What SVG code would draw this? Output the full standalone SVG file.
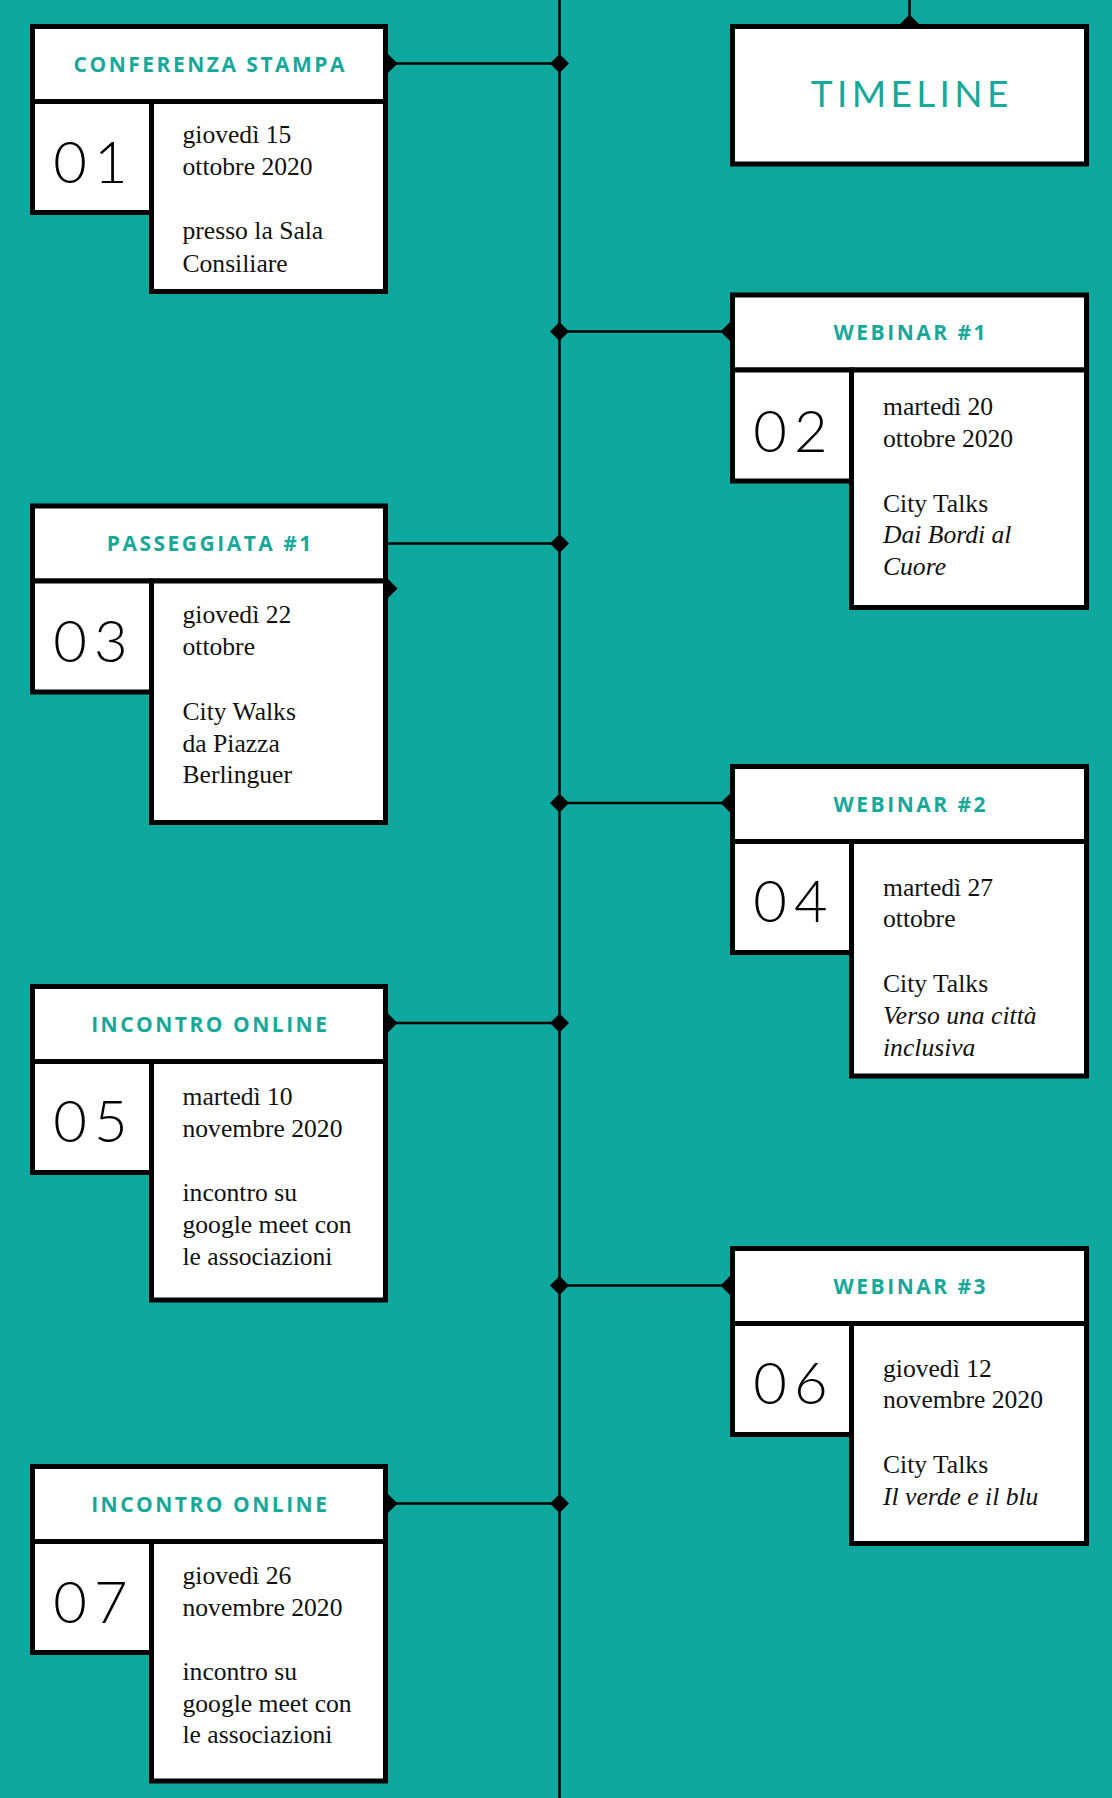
<svg xmlns="http://www.w3.org/2000/svg" width="1112" height="1798" viewBox="0 0 1112 1798">
<defs>
<style>
.box{fill:#fff;stroke:#000;stroke-width:5}
.head{font-family:"Open Sans","DejaVu Sans",sans-serif;font-weight:700;font-size:21px;letter-spacing:2.5px;fill:#17a89a;text-anchor:middle}
.num{font-family:Lato,"DejaVu Sans",sans-serif;font-weight:300;font-size:58px;letter-spacing:7px;fill:#000;text-anchor:middle}
.body{font-family:"Liberation Serif","Times New Roman",serif;font-size:25.6px;fill:#111}
.it{font-style:italic}
.title{font-family:Lato,"DejaVu Sans",sans-serif;font-weight:400;font-size:37px;letter-spacing:4.4px;fill:#17a89a;text-anchor:middle}
.line{stroke:#000;stroke-width:2.5;fill:none}
.conn{stroke:#000;stroke-width:2.5;fill:none;marker-start:url(#dia);marker-end:url(#dia)}
.connE{stroke:#000;stroke-width:2.5;fill:none;marker-end:url(#dia)}
</style>
<marker id="dia" markerUnits="userSpaceOnUse" markerWidth="20" markerHeight="20" refX="10" refY="10" orient="auto" overflow="visible">
<path d="M10,0.5 L19.5,10 L10,19.5 L0.5,10Z" fill="#000"/>
</marker>
<path id="dm" d="M0,-9.5 L9.5,0 L0,9.5 L-9.5,0Z" fill="#000"/>
</defs>
<rect width="1112" height="1798" fill="#0fa89e"/>
<g id="connectors">
<line class="line" x1="559.5" y1="0" x2="559.5" y2="1798"/>
<line class="connE" x1="909.5" y1="0" x2="909.5" y2="24"/>
<line class="conn" x1="388" y1="63.5" x2="559.5" y2="63.5"/>
<line class="conn" x1="730" y1="331.5" x2="559.5" y2="331.5"/>
<line class="connE" x1="388" y1="543.5" x2="559.5" y2="543.5"/>
<use href="#dm" x="388" y="588.5"/>
<line class="conn" x1="730" y1="803" x2="559.5" y2="803"/>
<line class="conn" x1="388" y1="1023" x2="559.5" y2="1023"/>
<line class="conn" x1="730" y1="1285.5" x2="559.5" y2="1285.5"/>
<line class="conn" x1="388" y1="1503.5" x2="559.5" y2="1503.5"/>
</g>
<g id="timeline">
<rect class="box" x="732.5" y="26.5" width="354" height="137.5"/>
<text class="title" x="911.7" y="106.7">TIMELINE</text>
</g>
<g id="box01">
<rect class="box" x="32.5" y="26.5" width="353" height="75"/>
<rect class="box" x="32.5" y="101.5" width="119" height="111"/>
<rect class="box" x="151.5" y="101.5" width="234" height="190"/>
<text class="head" x="210.3" y="71.7">CONFERENZA STAMPA</text>
<text class="num" x="94" y="182.7">01</text>
<text class="body"><tspan x="182.5" y="143.3">giovedì 15</tspan><tspan x="182.5" y="175">ottobre 2020</tspan><tspan x="182.5" y="239">presso la Sala</tspan><tspan x="182.5" y="271.7">Consiliare</tspan></text>
</g>
<g id="box02">
<rect class="box" x="732.5" y="295" width="354" height="75"/>
<rect class="box" x="732.5" y="370" width="119" height="111"/>
<rect class="box" x="851.5" y="370" width="235" height="237.5"/>
<text class="head" x="910.8" y="340.2">WEBINAR #1</text>
<text class="num" x="794" y="451.7">02</text>
<text class="body"><tspan x="883" y="415">martedì 20</tspan><tspan x="883" y="446.7">ottobre 2020</tspan><tspan x="883" y="511.7">City Talks</tspan><tspan class="it" x="883" y="543.3">Dai Bordi al</tspan><tspan class="it" x="883" y="575">Cuore</tspan></text>
</g>
<g id="box03">
<rect class="box" x="32.5" y="506" width="353" height="75"/>
<rect class="box" x="32.5" y="581" width="119" height="111"/>
<rect class="box" x="151.5" y="581" width="234" height="241.5"/>
<text class="head" x="210.3" y="551.2">PASSEGGIATA #1</text>
<text class="num" x="94" y="661.7">03</text>
<text class="body"><tspan x="182.5" y="623.3">giovedì 22</tspan><tspan x="182.5" y="655">ottobre</tspan><tspan x="182.5" y="720">City Walks</tspan><tspan x="182.5" y="751.7">da Piazza</tspan><tspan x="182.5" y="783.3">Berlinguer</tspan></text>
</g>
<g id="box04">
<rect class="box" x="732.5" y="766.5" width="354" height="75"/>
<rect class="box" x="732.5" y="841.5" width="119" height="111"/>
<rect class="box" x="851.5" y="841.5" width="235" height="234.5"/>
<text class="head" x="910.8" y="811.7">WEBINAR #2</text>
<text class="num" x="794" y="922.3">04</text>
<text class="body"><tspan x="883" y="895.7">martedì 27</tspan><tspan x="883" y="927.3">ottobre</tspan><tspan x="883" y="992.3">City Talks</tspan><tspan class="it" x="883" y="1024">Verso una città</tspan><tspan class="it" x="883" y="1055.7">inclusiva</tspan></text>
</g>
<g id="box05">
<rect class="box" x="32.5" y="986.5" width="353" height="75"/>
<rect class="box" x="32.5" y="1061.5" width="119" height="111"/>
<rect class="box" x="151.5" y="1061.5" width="234" height="238.5"/>
<text class="head" x="210.3" y="1031.7">INCONTRO ONLINE</text>
<text class="num" x="94" y="1142.3">05</text>
<text class="body"><tspan x="182.5" y="1105">martedì 10</tspan><tspan x="182.5" y="1136.7">novembre 2020</tspan><tspan x="182.5" y="1200.7">incontro su</tspan><tspan x="182.5" y="1233.3">google meet con</tspan><tspan x="182.5" y="1265">le associazioni</tspan></text>
</g>
<g id="box06">
<rect class="box" x="732.5" y="1248.5" width="354" height="75"/>
<rect class="box" x="732.5" y="1323.5" width="119" height="111"/>
<rect class="box" x="851.5" y="1323.5" width="235" height="220"/>
<text class="head" x="910.8" y="1293.7">WEBINAR #3</text>
<text class="num" x="794" y="1404">06</text>
<text class="body"><tspan x="883" y="1376.7">giovedì 12</tspan><tspan x="883" y="1408.3">novembre 2020</tspan><tspan x="883" y="1472.7">City Talks</tspan><tspan class="it" x="883" y="1505">Il verde e il blu</tspan></text>
</g>
<g id="box07">
<rect class="box" x="32.5" y="1466.5" width="353" height="75"/>
<rect class="box" x="32.5" y="1541.5" width="119" height="111"/>
<rect class="box" x="151.5" y="1541.5" width="234" height="239.5"/>
<text class="head" x="210.3" y="1511.7">INCONTRO ONLINE</text>
<text class="num" x="94" y="1623.3">07</text>
<text class="body"><tspan x="182.5" y="1584">giovedì 26</tspan><tspan x="182.5" y="1616">novembre 2020</tspan><tspan x="182.5" y="1680">incontro su</tspan><tspan x="182.5" y="1711.7">google meet con</tspan><tspan x="182.5" y="1743.3">le associazioni</tspan></text>
</g>
</svg>
